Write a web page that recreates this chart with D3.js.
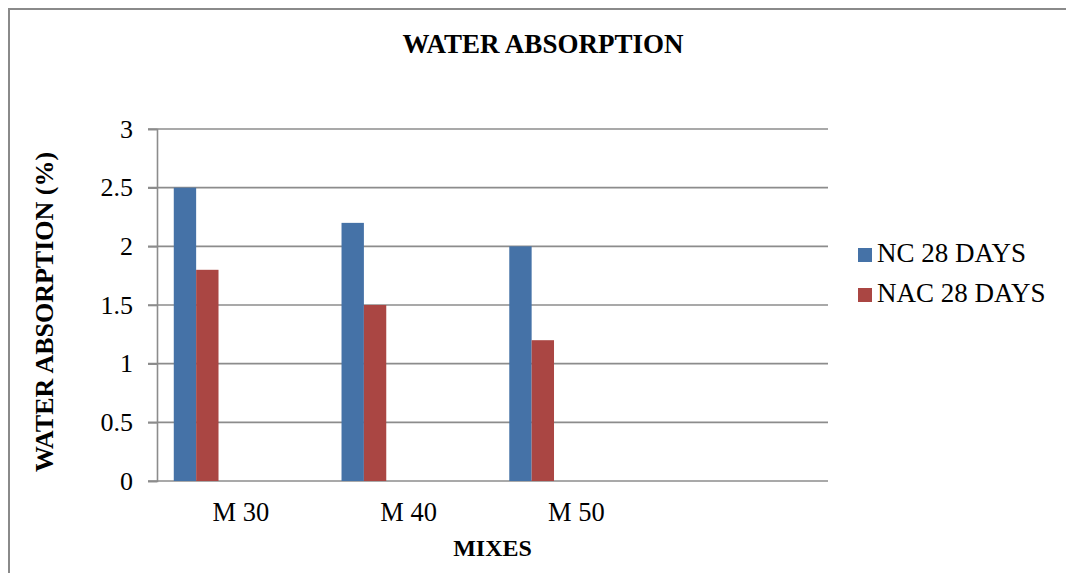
<!DOCTYPE html>
<html>
<head>
<meta charset="utf-8">
<script src="https://cdn.jsdelivr.net/npm/d3@7"></script>
<style>
  html, body { margin: 0; padding: 0; background: #fff; }
  svg { display: block; font-family: "Liberation Serif", "Times New Roman", serif; }
</style>
</head>
<body>
<svg id="chart" width="1066" height="573"></svg>
<script>
// Water absorption (%) at 28 days for normal and NAC concrete
const categories = ["M 30", "M 40", "M 50", ""];
const seriesNames = ["NC 28 DAYS", "NAC 28 DAYS"];
const ncValues = [2.5, 2.2, 2.0];
const nacValues = [1.8, 1.5, 1.2];
const yTicks = [0, 0.5, 1, 1.5, 2, 2.5, 3];
const colors = ["#4572A7", "#AA4643"];

const seriesValues = [ncValues, nacValues];
const SLOTS = 6;          // bar slots reserved per category
const GAP = 1.5;          // gap between groups, in bar widths

const svg = d3.select("#chart");
const plot = { left: 157, right: 828, top: 129, bottom: 481 };

// chart frame
svg.append("path")
  .attr("d", "M9,573 V9 H1066")
  .attr("fill", "none")
  .attr("stroke", "#8a8a8a")
  .attr("stroke-width", 2);

const x0 = d3.scaleBand().domain(categories).range([plot.left, plot.right]).padding(0);
const bw = x0.bandwidth();
const barW = bw / (SLOTS + GAP);
const x1 = d3.scaleBand().domain(d3.range(SLOTS))
  .range([barW * GAP / 2, bw - barW * GAP / 2]).padding(0);
const y = d3.scaleLinear().domain([0, 3]).range([plot.bottom, plot.top]);

// gridlines
svg.append("g").selectAll("line").data(yTicks).join("line")
  .attr("x1", plot.left - 9).attr("x2", plot.right)
  .attr("y1", d => y(d)).attr("y2", d => y(d))
  .attr("stroke", "#8c8c8c").attr("stroke-width", 1.6);

// bars
seriesValues.forEach((vals, si) => {
  svg.append("g").selectAll("rect").data(vals).join("rect")
    .attr("x", (d, i) => x0(categories[i]) + x1(si))
    .attr("width", x1.bandwidth())
    .attr("y", d => y(d))
    .attr("height", d => y(0) - y(d))
    .attr("fill", colors[si]);
});

// y axis
const yAxis = d3.axisLeft(y).tickValues(yTicks).tickSize(9).tickPadding(15)
  .tickFormat(d => String(d));
const gy = svg.append("g").attr("transform", `translate(${plot.left},0)`).call(yAxis);
gy.select(".domain").attr("stroke", "#8c8c8c").attr("stroke-width", 1.6);
gy.selectAll(".tick line").attr("stroke", "#8c8c8c").attr("stroke-width", 1.6);
gy.selectAll(".tick text").attr("font-family", "Liberation Serif").attr("font-size", 26)
  .attr("fill", "#000");

// x axis labels
const xAxis = d3.axisBottom(x0).tickSize(0).tickPadding(21);
const gx = svg.append("g").attr("transform", `translate(0,${plot.bottom})`).call(xAxis);
gx.select(".domain").remove();
gx.selectAll(".tick text").attr("font-family", "Liberation Serif").attr("font-size", 26.5)
  .attr("fill", "#000");

// titles
svg.append("text").attr("x", 543).attr("y", 53).attr("text-anchor", "middle")
  .attr("font-size", 27).attr("font-weight", "bold").text("WATER ABSORPTION");
svg.append("text").attr("x", (plot.left + plot.right) / 2).attr("y", 556)
  .attr("text-anchor", "middle").attr("font-size", 24).attr("font-weight", "bold").text("MIXES");
svg.append("text").attr("transform", "translate(53,312) rotate(-90)")
  .attr("text-anchor", "middle").attr("font-size", 26).attr("font-weight", "bold")
  .text("WATER ABSORPTION (%)");

// legend
const lg = svg.append("g").selectAll("g").data(seriesNames).join("g")
  .attr("transform", (d, i) => `translate(858,${248 + i * 40})`);
lg.append("rect").attr("width", 14).attr("height", 14).attr("fill", (d, i) => colors[i]);
lg.append("text").attr("x", 19).attr("y", 14).attr("font-size", 27).text(d => d);
</script>
</body>
</html>
